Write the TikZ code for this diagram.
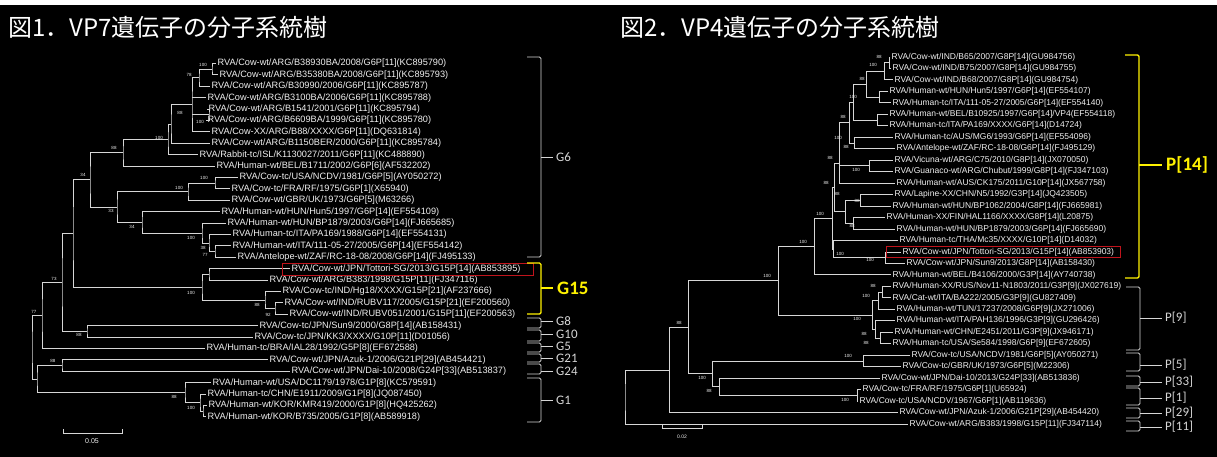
\documentclass[tikz,border=0pt]{standalone}
\usepackage{fontspec}
\setmainfont{Liberation Sans}
\newfontfamily\jpfont{Noto Sans CJK JP}
\newfontfamily\grpfont{Carlito}
\usetikzlibrary{calc}
\definecolor{treegray}{HTML}{D6D6D6}
\definecolor{leafwhite}{HTML}{F0F0F0}
\definecolor{grpyellow}{HTML}{FFF200}
\definecolor{boxred}{HTML}{C0141C}

\newcommand{\clade}[4]{%
  \path let \p1=($(#3)!0.5!(#4)$) in coordinate (#1) at (#2pt,\y1);
  \draw[br] (#3) -| (#1) |- (#4);}
\newcommand{\twig}[2]{\draw[br] (#2 |- #1) -- (#1);}
\newcommand{\grp}[8]{%
  \draw[#7, rounded corners=1.5pt] (#2-14,#3) -- (#2,#3) -- (#2,#4) -- (#2-14,#4);
  \draw[#7] (#2,#5) -- (#6,#5);
  \node[#7 label] (#1) at (#6,#5) {#8};}

\begin{document}
\begin{tikzpicture}[x=1pt, y=-1pt,
  br/.style={draw=treegray, line width=0.9pt},
  lleaf/.style={anchor=west, inner sep=1.5pt, text=leafwhite, font=\fontsize{9.2}{9.2}\selectfont},
  rleaf/.style={anchor=west, inner sep=1.5pt, text=leafwhite, font=\fontsize{8.5}{8.5}\selectfont},
  bs/.style={inner sep=0pt, text=leafwhite, font=\fontsize{4.5}{4.5}\selectfont},
  gw/.style={draw=treegray, line width=0.9pt},
  gw label/.style={anchor=west, inner xsep=3pt, inner ysep=0pt, text=treegray, font=\grpfont\fontsize{13}{13}\selectfont},
  gy/.style={draw=grpyellow, line width=1.4pt},
  gy label/.style={anchor=west, inner sep=4pt, text=grpyellow, font=\grpfont\bfseries\fontsize{19}{19}\selectfont},
  title/.style={anchor=west, inner sep=0pt, text=white, font=\jpfont\fontsize{24}{24}\selectfont}]
\useasboundingbox (0,0) rectangle (1217,457);
\fill[white] (0,0) rectangle (1217,457);
\fill[black] (0,5) rectangle (1217,457);

\node[title] (t1) at (8,27) {図1．VP7遺伝子の分子系統樹};
\node[title] (t2) at (620,27) {図2．VP4遺伝子の分子系統樹};

% VP7
\node[lleaf] (a0) at (216,63.5) {RVA/Cow-wt/ARG/B38930BA/2008/G6P[11](KC895790)};
\node[lleaf] (a1) at (218,74.9) {RVA/Cow-wt/ARG/B35380BA/2008/G6P[11](KC895793)};
\node[lleaf] (a2) at (210,86.3) {RVA/Cow-wt/ARG/B30990/2006/G6P[11](KC895787)};
\node[lleaf] (a3) at (206,97.7) {RVA/Cow-wt/ARG/B3100BA/2006/G6P[11](KC895788)};
\node[lleaf] (a4) at (207,109.1) {RVA/Cow-wt/ARG/B1541/2001/G6P[11](KC895794)};
\node[lleaf] (a5) at (206,120.5) {RVA/Cow-wt/ARG/B6609BA/1999/G6P[11](KC895780)};
\node[lleaf] (a6) at (210,131.9) {RVA/Cow-XX/ARG/B88/XXXX/G6P[11](DQ631814)};
\node[lleaf] (a7) at (210,143.3) {RVA/Cow-wt/ARG/B1150BER/2000/G6P[11](KC895784)};
\node[lleaf] (a8) at (198,154.7) {RVA/Rabbit-tc/ISL/K1130027/2011/G6P[11](KC488890)};
\node[lleaf] (a9) at (215,166.1) {RVA/Human-wt/BEL/B1711/2002/G6P[6](AF532202)};
\node[lleaf] (a10) at (238,177.5) {RVA/Cow-tc/USA/NCDV/1981/G6P[5](AY050272)};
\node[lleaf] (a11) at (230,188.9) {RVA/Cow-tc/FRA/RF/1975/G6P[1](X65940)};
\node[lleaf] (a12) at (230,200.3) {RVA/Cow-wt/GBR/UK/1973/G6P[5](M63266)};
\node[lleaf] (a13) at (220,211.7) {RVA/Human-wt/HUN/Hun5/1997/G6P[14](EF554109)};
\node[lleaf] (a14) at (226,223.1) {RVA/Human-wt/HUN/BP1879/2003/G6P[14](FJ665685)};
\node[lleaf] (a15) at (231,234.5) {RVA/Human-tc/ITA/PA169/1988/G6P[14](EF554131)};
\node[lleaf] (a16) at (231,245.9) {RVA/Human-wt/ITA/111-05-27/2005/G6P[14](EF554142)};
\node[lleaf] (a17) at (236,257.3) {RVA/Antelope-wt/ZAF/RC-18-08/2008/G6P[14](FJ495133)};
\node[lleaf] (a18) at (290,268.7) {RVA/Cow-wt/JPN/Tottori-SG/2013/G15P[14](AB853895)};
\node[lleaf] (a19) at (268,280.1) {RVA/Cow-wt/ARG/B383/1998/G15P[11](FJ347116)};
\node[lleaf] (a20) at (281,291.5) {RVA/Cow-tc/IND/Hg18/XXXX/G15P[21](AF237666)};
\node[lleaf] (a21) at (283,302.9) {RVA/Cow-wt/IND/RUBV117/2005/G15P[21](EF200560)};
\node[lleaf] (a22) at (288,314.3) {RVA/Cow-wt/IND/RUBV051/2001/G15P[11](EF200563)};
\node[lleaf] (a23) at (258,325.7) {RVA/Cow-tc/JPN/Sun9/2000/G8P[14](AB158431)};
\node[lleaf] (a24) at (253,337.1) {RVA/Cow-tc/JPN/KK3/XXXX/G10P[11](D01056)};
\node[lleaf] (a25) at (205,348.5) {RVA/Human-tc/BRA/IAL28/1992/G5P[8](EF672588)};
\node[lleaf] (a26) at (268,359.9) {RVA/Cow-wt/JPN/Azuk-1/2006/G21P[29](AB454421)};
\node[lleaf] (a27) at (290,371.3) {RVA/Cow-wt/JPN/Dai-10/2008/G24P[33](AB513837)};
\node[lleaf] (a28) at (211,382.7) {RVA/Human-wt/USA/DC1179/1978/G1P[8](KC579591)};
\node[lleaf] (a29) at (206,394.1) {RVA/Human-tc/CHN/E1911/2009/G1P[8](JQ087450)};
\node[lleaf] (a30) at (207,405.5) {RVA/Human-wt/KOR/KMR419/2000/G1P[8](HQ425262)};
\node[lleaf] (a31) at (206,416.9) {RVA/Human-wt/KOR/B735/2005/G1P[8](AB589918)};

\clade{c01}{212}{a0}{a1}
\clade{c012}{199}{c01}{a2}
\clade{c45}{209}{a4}{a5}
\clade{v}{192}{c012}{a6}
\twig{a3}{v}
\twig{c45}{v}
\clade{w}{171}{v}{a7}
\clade{u}{168}{w}{a8}
\clade{k}{123}{u}{a9}
\clade{p}{215}{a10}{a11}
\clade{n}{188}{p}{a12}
\clade{t}{215}{a16}{a17}
\clade{s}{209}{a15}{t}
\clade{q}{202}{a14}{s}
\clade{o}{142}{a13}{q}
\clade{m}{117}{n}{o}
\clade{f}{90}{k}{m}
\clade{h}{209}{a18}{a19}
\clade{j}{275}{a21}{a22}
\clade{i}{265}{a20}{j}
\clade{g}{202}{h}{i}
\clade{d}{73}{f}{g}
\clade{e}{87}{a23}{a24}
\clade{c}{62}{d}{e}
\clade{aa}{42}{c}{a25}
\clade{bb}{62}{a26}{a27}
\clade{x}{203}{a30}{a31}
\clade{y}{200}{a29}{x}
\clade{z}{185}{a28}{y}
\clade{b}{37}{bb}{z}
\clade{root}{32}{aa}{b}

\node[bs] (bl1) at (203,65) {100};
\node[bs] (bl2) at (189,75) {78};
\node[bs] (bl3) at (180,113) {88};
\node[bs] (bl4) at (200,122) {100};
\node[bs] (bl5) at (159,138) {100};
\node[bs] (bl6) at (114,148) {88};
\node[bs] (bl7) at (83,175) {34};
\node[bs] (bl8) at (204,178) {100};
\node[bs] (bl9) at (179,188) {100};
\node[bs] (bl10) at (111,211) {33};
\node[bs] (bl11) at (132,227) {34};
\node[bs] (bl12) at (191,238) {100};
\node[bs] (bl13) at (203,248) {38};
\node[bs] (bl14) at (205,255) {77};
\node[bs] (bl15) at (54,279) {73};
\node[bs] (bl16) at (191,293) {100};
\node[bs] (bl17) at (257,305) {88};
\node[bs] (bl18) at (268,315) {92};
\node[bs] (bl19) at (34,312) {77};
\node[bs] (bl20) at (79,335) {88};
\node[bs] (bl21) at (53,361) {88};
\node[bs] (bl22) at (174,397) {88};
\node[bs] (bl23) at (191,408) {100};

\draw[boxred, line width=0.8pt] (282,263.5) rectangle (533,275);

\grp{g6}{541}{57}{257}{157}{553}{gw}{G6}
\grp{g15}{541}{263}{314}{288}{553}{gy}{G15}
\grp{g8}{541}{318}{328}{321}{553}{gw}{G8}
\grp{g10}{541}{330}{341}{334}{553}{gw}{G10}
\grp{g5}{541}{343}{352}{346}{553}{gw}{G5}
\grp{g21}{541}{354}{362}{358}{553}{gw}{G21}
\grp{g24}{541}{364}{374}{371}{553}{gw}{G24}
\grp{g1}{541}{378}{422}{400}{553}{gw}{G1}

\draw[br] (63,429) -- (63,433) -- (122,433) -- (122,429);
\node[bs, font=\fontsize{7}{7}\selectfont] (sc1) at (92,441) {0.05};

% VP4
\node[rleaf] (b0) at (890,57) {RVA/Cow-wt/IND/B65/2007/G8P[14](GU984756)};
\node[rleaf] (b1) at (891,68.5) {RVA/Cow-wt/IND/B75/2007/G8P[14](GU984755)};
\node[rleaf] (b2) at (893,79.9) {RVA/Cow-wt/IND/B68/2007/G8P[14](GU984754)};
\node[rleaf] (b3) at (888,91.4) {RVA/Human-wt/HUN/Hun5/1997/G6P[14](EF554107)};
\node[rleaf] (b4) at (891,102.9) {RVA/Human-tc/ITA/111-05-27/2005/G6P[14](EF554140)};
\node[rleaf] (b5) at (888,114.4) {RVA/Human-wt/BEL/B10925/1997/G6P[14]/VP4(EF554118)};
\node[rleaf] (b6) at (888,125.8) {RVA/Human-tc/ITA/PA169/XXXX/G6P[14](D14724)};
\node[rleaf] (b7) at (893,137.3) {RVA/Human-tc/AUS/MG6/1993/G6P[14](EF554096)};
\node[rleaf] (b8) at (895,148.8) {RVA/Antelope-wt/ZAF/RC-18-08/G6P[14](FJ495129)};
\node[rleaf] (b9) at (893,160.2) {RVA/Vicuna-wt/ARG/C75/2010/G8P[14](JX070050)};
\node[rleaf] (b10) at (893,171.7) {RVA/Guanaco-wt/ARG/Chubut/1999/G8P[14](FJ347103)};
\node[rleaf] (b11) at (895,183.2) {RVA/Human-wt/AUS/CK175/2011/G10P[14](JX567758)};
\node[rleaf] (b12) at (893,194.6) {RVA/Lapine-XX/CHN/N5/1992/G3P[14](JQ423505)};
\node[rleaf] (b13) at (891,206.1) {RVA/Human-wt/HUN/BP1062/2004/G8P[14](FJ665981)};
\node[rleaf] (b14) at (885,217.6) {RVA/Human-XX/FIN/HAL1166/XXXX/G8P[14](L20875)};
\node[rleaf] (b15) at (895,229.1) {RVA/Human-wt/HUN/BP1879/2003/G6P[14](FJ665690)};
\node[rleaf] (b16) at (898,240.5) {RVA/Human-tc/THA/Mc35/XXXX/G10P[14](D14032)};
\node[rleaf] (b17) at (901,252) {RVA/Cow-wt/JPN/Tottori-SG/2013/G15P[14](AB853903)};
\node[rleaf] (b18) at (905,263.5) {RVA/Cow-wt/JPN/Sun9/2013/G8P[14](AB158430)};
\node[rleaf] (b19) at (891,274.9) {RVA/Human-wt/BEL/B4106/2000/G3P[14](AY740738)};
\node[rleaf] (b20) at (891,286.4) {RVA/Human-XX/RUS/Nov11-N1803/2011/G3P[9](JX027619)};
\node[rleaf] (b21) at (891,297.9) {RVA/Cat-wt/ITA/BA222/2005/G3P[9](GU827409)};
\node[rleaf] (b22) at (895,309.3) {RVA/Human-wt/TUN/17237/2008/G6P[9](JX271006)};
\node[rleaf] (b23) at (895,320.8) {RVA/Human-wt/ITA/PAH136/1996/G3P[9](GU296426)};
\node[rleaf] (b24) at (893,332.3) {RVA/Human-wt/CHN/E2451/2011/G3P[9](JX946171)};
\node[rleaf] (b25) at (891,343.8) {RVA/Human-tc/USA/Se584/1998/G6P[9](EF672605)};
\node[rleaf] (b26) at (910,355.2) {RVA/Cow-tc/USA/NCDV/1981/G6P[5](AY050271)};
\node[rleaf] (b27) at (901,366.7) {RVA/Cow-tc/GBR/UK/1973/G6P[5](M22306)};
\node[rleaf] (b28) at (880,378.2) {RVA/Cow-wt/JPN/Dai-10/2013/G24P[33](AB513836)};
\node[rleaf] (b29) at (861,389.6) {RVA/Cow-tc/FRA/RF/1975/G6P[1](U65924)};
\node[rleaf] (b30) at (858,401.1) {RVA/Cow-tc/USA/NCDV/1967/G6P[1](AB119636)};
\node[rleaf] (b31) at (898,412.6) {RVA/Cow-wt/JPN/Azuk-1/2006/G21P[29](AB454420)};
\node[rleaf] (b32) at (908,424) {RVA/Cow-wt/ARG/B383/1998/G15P[11](FJ347114)};

\clade{r01}{889}{b0}{b1}
\clade{r012}{884}{r01}{b2}
\clade{r34}{879}{b3}{b4}
\clade{ra}{866}{r012}{r34}
\clade{r56}{877}{b5}{b6}
\clade{rb}{853}{ra}{r56}
\clade{r78}{854}{b7}{b8}
\clade{rc}{849}{rb}{r78}
\clade{r910}{869}{b9}{b10}
\clade{rd}{839}{rc}{r910}
\clade{re}{839}{rd}{b11}
\clade{r1213}{860}{b12}{b13}
\clade{r1415}{853}{b14}{b15}
\clade{rf}{845}{r1213}{r1415}
\clade{rg}{834}{re}{rf}
\clade{r1718}{885}{b17}{b18}
\clade{rh}{833}{b16}{r1718}
\clade{ri}{832}{rg}{rh}
\clade{p14}{814}{ri}{b19}
\clade{r2021}{882}{b20}{b21}
\clade{rj}{878}{r2021}{b22}
\clade{r2425}{880}{b24}{b25}
\clade{rk}{875}{b23}{r2425}
\clade{p9}{872}{rj}{rk}
\clade{rl}{778}{p14}{p9}
\clade{p5}{863}{b26}{b27}
\clade{p1}{857}{b29}{b30}
\clade{rm}{719}{b28}{p1}
\clade{rn}{712}{p5}{rm}
\clade{ro}{688}{rl}{rn}
\clade{rp}{669}{ro}{b31}
\clade{rroot}{625}{rp}{b32}

\node[bs] (br1) at (879,57) {88};
\node[bs] (br2) at (873,65) {100};
\node[bs] (br3) at (862,79) {88};
\node[bs] (br4) at (853,97) {100};
\node[bs] (br5) at (843,117) {88};
\node[bs] (br6) at (838,138) {100};
\node[bs] (br7) at (846,147) {88};
\node[bs] (br8) at (830,158) {88};
\node[bs] (br9) at (856,170) {100};
\node[bs] (br10) at (826,183) {88};
\node[bs] (br11) at (837,194) {88};
\node[bs] (br12) at (857,201) {88};
\node[bs] (br13) at (820,214) {100};
\node[bs] (br14) at (852,226) {88};
\node[bs] (br15) at (803,242) {100};
\node[bs] (br16) at (840,254) {100};
\node[bs] (br17) at (870,260) {100};
\node[bs] (br18) at (767,276) {100};
\node[bs] (br19) at (873,286) {88};
\node[bs] (br20) at (866,296) {100};
\node[bs] (br21) at (857,319) {100};
\node[bs] (br22) at (864,334) {88};
\node[bs] (br23) at (866,343) {88};
\node[bs] (br24) at (679,323) {88};
\node[bs] (br25) at (848,356) {100};
\node[bs] (br26) at (702,378) {100};
\node[bs] (br27) at (709,391) {88};
\node[bs] (br28) at (845,400) {100};

\draw[boxred, line width=0.8pt] (886,246.5) rectangle (1120,257.5);

\grp{p14l}{1139}{55}{278}{165}{1162}{gy}{P[14]}
\grp{p9l}{1140}{287}{350}{318}{1162}{gw}{P[9]}
\grp{p5l}{1140}{353}{371}{365}{1162}{gw}{P[5]}
\grp{p33l}{1140}{376}{386}{382}{1162}{gw}{P[33]}
\grp{p1l}{1140}{388}{405}{398}{1162}{gw}{P[1]}
\grp{p29l}{1140}{408}{418}{413}{1162}{gw}{P[29]}
\grp{p11l}{1140}{421}{431}{427}{1162}{gw}{P[11]}

\draw[br] (662,425) -- (662,428) -- (702,428) -- (702,425);
\node[bs, font=\fontsize{5}{5}\selectfont] (sc2) at (682,437) {0.02};
\end{tikzpicture}
\end{document}
